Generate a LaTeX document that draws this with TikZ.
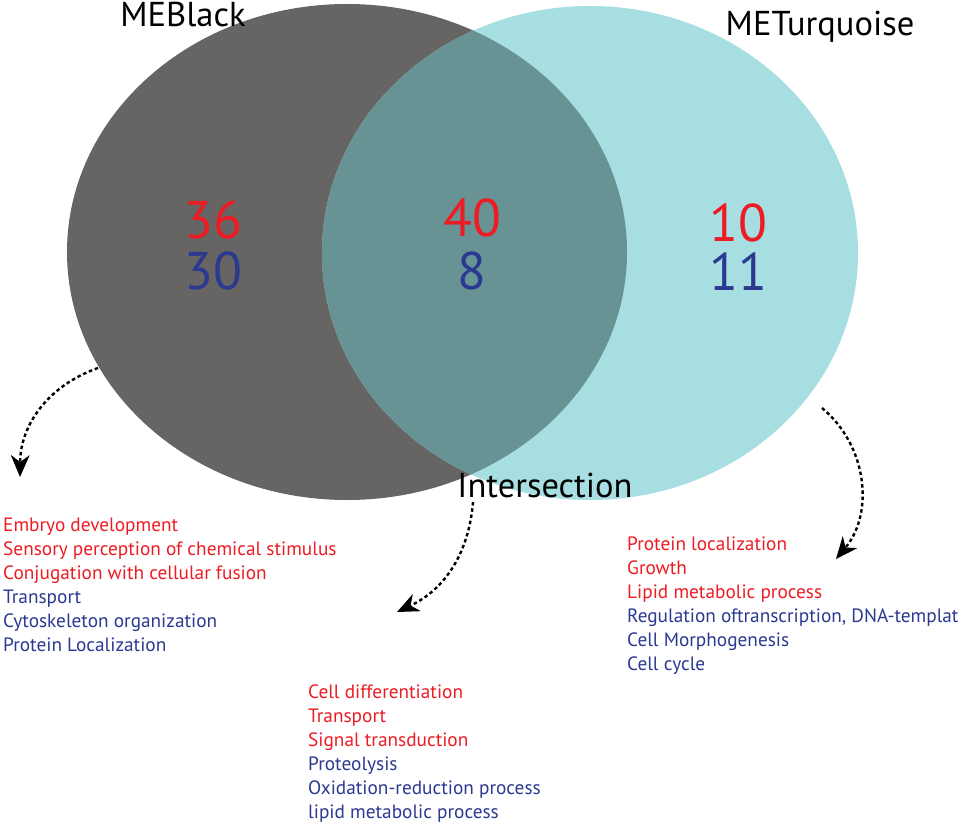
\documentclass[tikz,border=0pt]{standalone}
\usepackage{fontspec}
\setmainfont{PT Sans}
\usetikzlibrary{arrows.meta, positioning, calc}
\definecolor{setblack}{RGB}{102,101,99}
\definecolor{setturq}{RGB}{166,222,226}
\definecolor{setmix}{RGB}{103,147,149}
\definecolor{upred}{RGB}{237,28,36}
\definecolor{downblue}{RGB}{43,57,144}
\tikzset{
  setlabel/.style={anchor=base, inner sep=0pt, font=\fontsize{34.5}{34.5}\selectfont},
  count/.style={anchor=base, inner sep=0pt, font=\fontsize{53}{53}\selectfont},
  golist/.style={anchor=north west, inner sep=0pt, align=left, font=\fontsize{19.3}{24}\selectfont},
  pointer/.style={line width=2.4pt, dash pattern=on 3.5pt off 2.8pt,
    arrows={-Stealth[length=22pt,width=19pt,inset=7pt,line width=0pt]}}
}
\begin{document}
\begin{tikzpicture}[x=1pt, y=1pt]
\useasboundingbox (0,0) rectangle (965,823);
% the two sets
\coordinate (BlackC) at (347,571);
\coordinate (TurqC) at (590,570);
\fill[setblack] (BlackC) ellipse [x radius=280, y radius=248];
\fill[setturq] (TurqC) ellipse [x radius=268, y radius=247];
\begin{scope}
\clip (BlackC) ellipse [x radius=280, y radius=248];
\fill[setmix] (TurqC) ellipse [x radius=268, y radius=247];
\end{scope}
% set names
\node[setlabel] (MEBlack) at (183,796) {MEBlack};
\node[setlabel] (METurq) at (820,787) {METurquoise};
\node[setlabel] (Inter) at (545,326) {Intersection};
% counts
\node[count, text=upred] (BlackUp) at (213,584) {36};
\node[count, text=downblue] (BlackDown) at (213,533) {30};
\node[count, text=upred] (InterUp) at (472,586) {40};
\node[count, text=downblue] (InterDown) at (472,533) {8};
\node[count, text=upred] (TurqUp) at (738,581) {10};
\node[count, text=downblue] (TurqDown) at (738,532) {11};
% GO terms
\node[golist] (BlackGO) at (3,305) {\textcolor{upred}{Embryo development}\\
  \textcolor{upred}{Sensory perception of chemical stimulus}\\
  \textcolor{upred}{Conjugation with cellular fusion}\\
  \textcolor{downblue}{Transport}\\
  \textcolor{downblue}{Cytoskeleton organization}\\
  \textcolor{downblue}{Protein Localization}};
\node[golist] (InterGO) at (308,138) {\textcolor{upred}{Cell differentiation}\\
  \textcolor{upred}{Transport}\\
  \textcolor{upred}{Signal transduction}\\
  \textcolor{downblue}{Proteolysis}\\
  \textcolor{downblue}{Oxidation-reduction process}\\
  \textcolor{downblue}{lipid metabolic process}};
\node[golist] (TurqGO) at (627,286) {\textcolor{upred}{Protein localization}\\
  \textcolor{upred}{Growth}\\
  \textcolor{upred}{Lipid metabolic process}\\
  \textcolor{downblue}{Regulation oftranscription, DNA-templat}\\
  \textcolor{downblue}{Cell Morphogenesis}\\
  \textcolor{downblue}{Cell cycle}};
% pointers
\coordinate (BlackTail) at (98,455);
\coordinate (BlackHead) at (20,346);
\coordinate (InterTail) at (473,321);
\coordinate (InterHead) at (397,211);
\coordinate (TurqTail) at (822,415);
\coordinate (TurqHead) at (836,264);
\draw[pointer] (BlackTail) to[bend right=35] (BlackHead);
\draw[pointer] (InterTail) to[bend left=30] (InterHead);
\draw[pointer] (TurqTail) to[bend left=45] (TurqHead);
\end{tikzpicture}
\end{document}
